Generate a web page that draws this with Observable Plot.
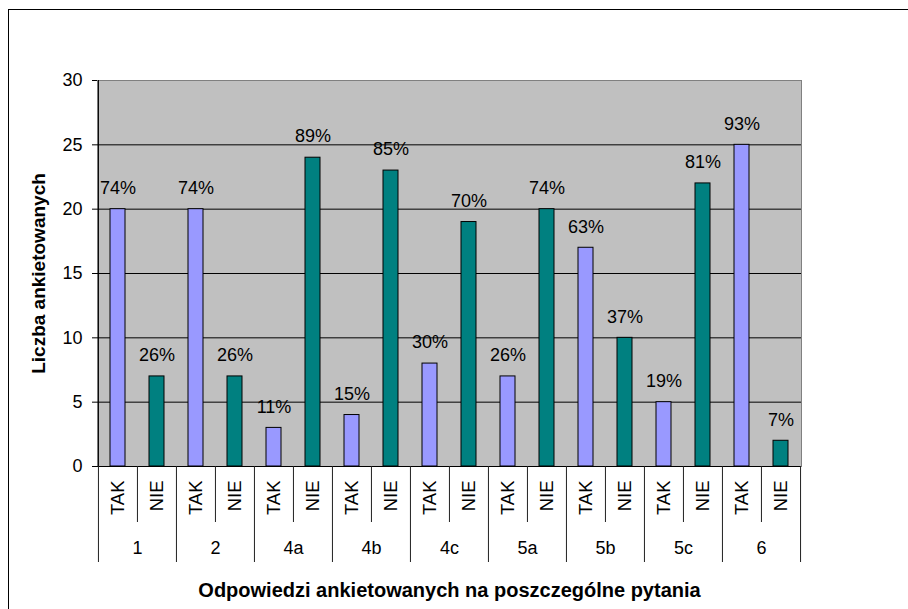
<!DOCTYPE html>
<html><head><meta charset="utf-8">
<script src="https://cdn.jsdelivr.net/npm/d3@7"></script>
<script src="https://cdn.jsdelivr.net/npm/@observablehq/plot@0.6"></script>
<style>
html,body{margin:0;padding:0;background:#fff;overflow:hidden}
#wrap{position:relative;width:908px;height:609px}
#chart{position:absolute;left:0;top:0}
#border{position:absolute;left:8px;top:9px;width:1000px;height:1000px;border-top:1px solid #000;border-left:1px solid #000;pointer-events:none}
</style></head><body>
<div id="wrap"><div id="chart"></div><div id="border"></div></div>
<script>
const questions = ["1","2","4a","4b","4c","5a","5b","5c","6"];
const answers = ["TAK","NIE"];
const takValues = [20,20,3,4,8,7,17,5,25];
const nieValues = [7,7,24,23,19,20,10,22,2];
const takPct = ["74%","74%","11%","15%","30%","26%","63%","19%","93%"];
const niePct = ["26%","26%","89%","85%","70%","74%","37%","81%","7%"];
const yTicks = [0,5,10,15,20,25,30];
const yTitle = "Liczba ankietowanych";
const xTitle = "Odpowiedzi ankietowanych na poszczególne pytania";
const colors = ["#9999FF","#008080"];

const rows = [];
questions.forEach((q, i) => {
  rows.push({key: q + "|TAK", question: q, answer: "TAK", value: takValues[i], pct: takPct[i]});
  rows.push({key: q + "|NIE", question: q, answer: "NIE", value: nieValues[i], pct: niePct[i]});
});
const takRows = rows.filter(d => d.answer === "TAK");
const nieRows = rows.filter(d => d.answer === "NIE");

const W = 908, H = 609, ML = 97, MR = 107, MT = 80, MB = 143;
const plotW = W - ML - MR, plotH = H - MT - MB;
const step = plotW / rows.length;
const font = "'Liberation Sans', Arial, sans-serif";
const lineColor = "#202020";

const chart = Plot.plot({
  width: W, height: H,
  marginLeft: ML, marginRight: MR, marginTop: MT, marginBottom: MB,
  style: {fontFamily: font, fontSize: "18px", background: "transparent", color: "#000"},
  x: {type: "band", domain: rows.map(d => d.key), padding: 0, axis: null},
  y: {domain: [0, 30], ticks: yTicks, tickSize: 5, tickPadding: 10, label: null},
  color: {domain: answers, range: colors},
  marks: [
    Plot.frame({fill: "#C0C0C0", stroke: "#808080"}),
    Plot.ruleY(yTicks.filter(t => t > 0 && t < 30), {stroke: "#000"}),
    Plot.barY(rows, {x: "key", y: "value", fill: "answer", stroke: "#000", strokeWidth: 1, insetLeft: 12, insetRight: 12}),
    Plot.ruleY([0], {stroke: "#000"}),
    Plot.ruleX([rows[0].key], {dx: -step / 2, stroke: "#000"}),
    Plot.ruleX(nieRows, {x: "key", dx: -step / 2, insetTop: plotH, insetBottom: -56, stroke: lineColor}),
    Plot.ruleX(takRows, {x: "key", dx: -step / 2, insetTop: plotH, insetBottom: -96, stroke: lineColor}),
    Plot.ruleX([rows[rows.length - 1].key], {dx: step / 2, insetTop: plotH, insetBottom: -96, stroke: lineColor}),
    Plot.text(rows, {x: "key", y: "value", text: "pct", dy: -21, fontSize: 18}),
    Plot.text(rows, {x: "key", text: "answer", frameAnchor: "bottom", rotate: -90, textAnchor: "end", lineAnchor: "middle", dy: 14, fontSize: 18.5}),
    Plot.text(takRows, {x: "key", text: "question", frameAnchor: "bottom", lineAnchor: "middle", textAnchor: "middle", dx: step / 2, dy: 82, fontSize: 18}),
    Plot.text([yTitle], {text: d => d, frameAnchor: "left", rotate: -90, textAnchor: "middle", lineAnchor: "middle", dx: -59, fontSize: 19, fontWeight: "bold"}),
    Plot.text([xTitle], {text: d => d, frameAnchor: "bottom", textAnchor: "middle", lineAnchor: "middle", dy: 124, fontSize: 20, fontWeight: "bold"})
  ]
});
document.getElementById("chart").appendChild(chart);
</script>
</body></html>
